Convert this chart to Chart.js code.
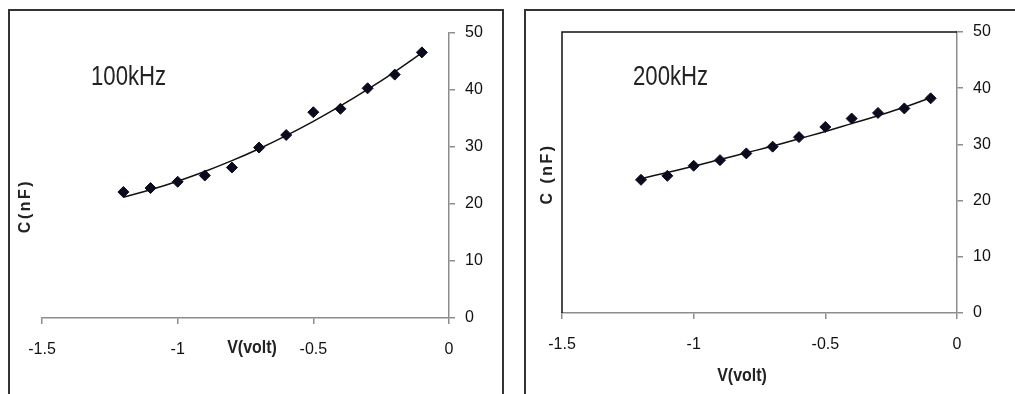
<!DOCTYPE html>
<html>
<head>
<meta charset="utf-8">
<script src="https://cdn.jsdelivr.net/npm/chart.js@4"></script>
<style>
    html, body { margin: 0; padding: 0; background: #fff; }
    body { width: 1015px; height: 394px; position: relative; overflow: hidden; }
    .panel { position: absolute; top: 9px; height: 400px; border: 2px solid #333; border-bottom: none; box-sizing: border-box; }
    #panelLeft { left: 8px; width: 496px; }
    #panelRight { left: 524px; width: 500px; border-right: none; }
    canvas { position: absolute; top: 0; }
    #chartLeft { left: 0; }
    #chartRight { left: 510px; }
</style>
</head>
<body>
<div class="panel" id="panelLeft"></div>
<div class="panel" id="panelRight"></div>
<canvas id="chartLeft" width="510" height="394"></canvas>
<canvas id="chartRight" width="505" height="394"></canvas>
<script>
// bias voltage, same for both frequencies
const voltage = [-1.2, -1.1, -1.0, -0.9, -0.8, -0.7, -0.6, -0.5, -0.4, -0.3, -0.2, -0.1];

// measured capacitance (nF)
const cap100k = [22.1, 22.8, 23.9, 25.0, 26.4, 29.9, 32.1, 36.1, 36.7, 40.3, 42.7, 46.6];
const cap200k = [23.7, 24.4, 26.2, 27.2, 28.4, 29.6, 31.3, 33.1, 34.6, 35.6, 36.4, 38.2];

// trend lines
const trend100k = [21.2, 22.5, 24.0, 25.7, 27.6, 29.7, 32.0, 34.5, 37.2, 40.1, 43.2, 46.5];
const trend200k = [23.9, 25.0, 26.1, 27.3, 28.5, 29.7, 31.0, 32.3, 33.7, 35.1, 36.6, 38.3];

const xTicks = [-1.5, -1, -0.5, 0];
const yTicks = [0, 10, 20, 30, 40, 50];

const FONT = '"Liberation Sans", Arial, sans-serif';
const AXIS_GREY = '#8c8c8c';

function toPoints(xs, ys) {
    return xs.map((x, i) => ({ x: x, y: ys[i] }));
}

// text squeezed sideways a bit, the original uses a narrow font
function narrowText(ctx, text, x, y, squeeze) {
    ctx.save();
    ctx.translate(x, y);
    ctx.scale(squeeze, 1);
    ctx.fillText(text, 0, 0);
    ctx.restore();
}

// draws the free text (frequency label, axis titles) and the plot border
const annotations = {
    id: 'annotations',
    beforeDatasetsDraw(chart, args, opts) {
        const ctx = chart.ctx;
        const area = chart.chartArea;
        if (opts.plotBorder) {
            ctx.save();
            ctx.strokeStyle = '#111';
            ctx.lineWidth = 1.5;
            ctx.beginPath();
            ctx.moveTo(area.left, area.bottom);
            ctx.lineTo(area.left, area.top);
            ctx.lineTo(area.right, area.top);
            ctx.stroke();
            ctx.restore();
        }
    },
    afterDraw(chart, args, opts) {
        const ctx = chart.ctx;
        ctx.save();
        ctx.fillStyle = '#222';
        ctx.textBaseline = 'middle';

        ctx.font = '27px ' + FONT;
        ctx.textAlign = 'left';
        narrowText(ctx, opts.label, opts.labelPos[0], opts.labelPos[1], 0.82);

        ctx.textAlign = 'center';
        ctx.font = 'bold 19px ' + FONT;
        narrowText(ctx, 'V(volt)', opts.xTitlePos[0], opts.xTitlePos[1], 0.84);

        ctx.translate(opts.yTitlePos[0], opts.yTitlePos[1]);
        ctx.rotate(-Math.PI / 2);
        ctx.font = 'bold 16px ' + FONT;
        ctx.letterSpacing = '2.5px';
        ctx.fillText(opts.yTitle, 0, 0);
        ctx.restore();
    }
};

function makeChart(canvasId, caps, trend, layout) {
    return new Chart(document.getElementById(canvasId), {
        type: 'scatter',
        data: {
            datasets: [{
                label: 'measured',
                data: toPoints(voltage, caps),
                pointStyle: 'rectRot',
                pointRadius: 5.5,
                backgroundColor: '#0b0b1e',
                borderColor: '#0b0b1e',
                borderWidth: 1
            }, {
                label: 'trend',
                data: toPoints(voltage, trend),
                showLine: true,
                tension: 0.4,
                pointRadius: 0,
                borderColor: '#111',
                borderWidth: 1.5
            }]
        },
        options: {
            responsive: false,
            animation: false,
            layout: { padding: layout.padding },
            plugins: {
                legend: { display: false },
                tooltip: { enabled: false },
                annotations: layout.text
            },
            scales: {
                x: {
                    type: 'linear',
                    min: -1.5,
                    max: 0,
                    afterFit: scale => { scale.height = layout.xHeight; },
                    afterBuildTicks: scale => { scale.ticks = xTicks.map(v => ({ value: v })); },
                    grid: { drawOnChartArea: false, drawTicks: true, tickLength: 6, color: AXIS_GREY, lineWidth: 1.5 },
                    border: { display: true, color: AXIS_GREY, width: 1.5 },
                    ticks: {
                        padding: layout.xPad,
                        color: '#111',
                        font: { family: FONT, size: 16 },
                        maxRotation: 0,
                        callback: v => String(v)
                    }
                },
                y: {
                    type: 'linear',
                    position: 'right',
                    min: 0,
                    max: 50,
                    afterFit: scale => { scale.width = layout.yWidth; },
                    afterBuildTicks: scale => { scale.ticks = yTicks.map(v => ({ value: v })); },
                    grid: { drawOnChartArea: false, drawTicks: true, tickLength: 6, color: AXIS_GREY, lineWidth: 1.5 },
                    border: { display: true, color: AXIS_GREY, width: 1.5 },
                    ticks: {
                        padding: 10,
                        color: '#111',
                        font: { family: FONT, size: 16 },
                        callback: v => String(v)
                    }
                }
            }
        },
        plugins: [annotations]
    });
}

makeChart('chartLeft', cap100k, trend100k, {
    padding: { left: 42, top: 33, right: 0, bottom: 0 },
    yWidth: 61,
    xHeight: 76,
    xPad: 16,
    text: {
        label: '100kHz',
        labelPos: [91, 78],
        xTitlePos: [252, 348],
        yTitle: 'C(nF)',
        yTitlePos: [26, 206],
        plotBorder: false
    }
});

makeChart('chartRight', cap200k, trend200k, {
    padding: { left: 52, top: 32, right: 0, bottom: 0 },
    yWidth: 58,
    xHeight: 81,
    xPad: 16,
    text: {
        label: '200kHz',
        labelPos: [123, 78],
        xTitlePos: [232, 376],
        yTitle: 'C (nF)',
        yTitlePos: [38, 174],
        plotBorder: true
    }
});
</script>
</body>
</html>
